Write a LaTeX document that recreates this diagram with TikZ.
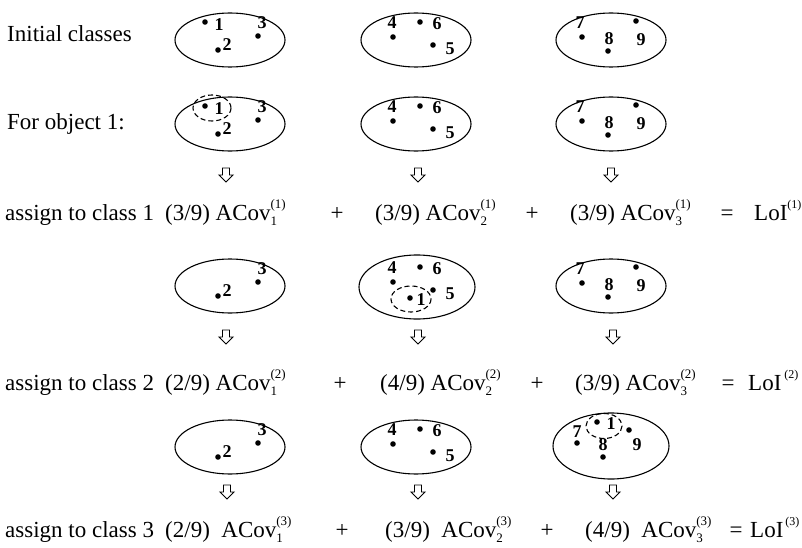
\documentclass[tikz,border=0pt]{standalone}
\usepackage{fontspec}
\setmainfont{Liberation Serif}
\newcommand\acv[2]{ACov\makebox[0pt][l]{\raisebox{-0.5ex}{\fontsize{13}{13}\selectfont #1}}\raisebox{1.05ex}{\fontsize{13}{13}\selectfont(#2)}}
\newcommand\lsup[1]{\raisebox{1.05ex}{\fontsize{12}{12}\selectfont(#1)}}
\begin{document}
\begin{tikzpicture}[x=1pt,y=-1pt,
  txt/.style={anchor=base west,inner sep=0pt,font=\fontsize{23}{23}\selectfont},
  op/.style={anchor=base,inner sep=0pt,font=\fontsize{23}{23}\selectfont},
  lab/.style={inner sep=0pt,font=\bfseries\fontsize{18}{18}\selectfont},
  cls/.style={line width=1.1pt},
  dsh/.style={line width=1.1pt,dash pattern=on 5pt off 3pt},
  harrowst/.style={line width=0.9pt,line join=miter},
  pics/cA/.style={code={
    \fill (-25,-18) circle (2.8);
    \node[lab] (a1) at (-11,-15) {1};
    \fill (28,-4) circle (2.8);
    \node[lab] (a3) at (32,-17) {3};
    \fill (-12,10) circle (2.8);
    \node[lab] (a2) at (-3,5) {2};
  }},
  pics/cB/.style={code={
    \fill (28,-4) circle (2.8);
    \node[lab] (b3) at (32,-17) {3};
    \fill (-12,10) circle (2.8);
    \node[lab] (b2) at (-3,5) {2};
  }},
  pics/cC/.style={code={
    \node[lab] (c4) at (-24,-17) {4};
    \fill (-23,-3) circle (2.8);
    \fill (4,-18) circle (2.8);
    \node[lab] (c6) at (21,-16) {6};
    \fill (17,5) circle (2.8);
    \node[lab] (c5) at (34,9) {5};
  }},
  pics/cD/.style={code={
    \node[lab] (d7) at (-31,-17) {7};
    \fill (-29,-3) circle (2.8);
    \fill (25,-19) circle (2.8);
    \node[lab] (d9) at (30,0) {9};
    \node[lab] (d8) at (-2,-1) {8};
    \fill (-3,11) circle (2.8);
  }},
  pics/darr/.style={code={
    \draw[harrowst] (-3.5,0) -- (3.5,0) -- (3.5,7) -- (7,7) -- (0,14) -- (-7,7) -- (-3.5,7) -- cycle;
  }}
]
\useasboundingbox (0,0) rectangle (802,548);

% row 1
\node[txt] (t0) at (7,42) {Initial classes};
\draw[cls] (230,40) ellipse [x radius=55, y radius=27];
\draw[cls] (416,40) ellipse [x radius=55, y radius=27];
\draw[cls] (611,40) ellipse [x radius=55, y radius=27];
\pic (r1a) at (230,40) {cA};
\pic (r1b) at (416,40) {cC};
\pic (r1c) at (611,40) {cD};

% row 2
\node[txt] (t1) at (7,130) {For object 1:};
\draw[cls] (230,124) ellipse [x radius=55, y radius=27];
\draw[cls] (416,124) ellipse [x radius=55, y radius=27];
\draw[cls] (611,124) ellipse [x radius=55, y radius=27];
\pic (r2a) at (230,124) {cA};
\pic (r2b) at (416,124) {cC};
\pic (r2c) at (611,124) {cD};
\draw[dsh] (212,108) ellipse [x radius=19, y radius=13];
\pic (ar1a) at (226,168) {darr};
\pic (ar1b) at (418,168) {darr};
\pic (ar1c) at (611,168) {darr};

% equation 1
\node[txt] (e1a) at (5,220) {assign to class 1};
\node[txt] (e1b) at (165,220) {(3/9) \acv{1}{1}};
\node[op]  (e1c) at (337,220) {+};
\node[txt] (e1d) at (375,220) {(3/9) \acv{2}{1}};
\node[op]  (e1e) at (532,220) {+};
\node[txt] (e1f) at (570,220) {(3/9) \acv{3}{1}};
\node[op]  (e1g) at (727,220) {=};
\node[txt] (e1h) at (754,220) {LoI\lsup{1}};

% row 3
\draw[cls] (230,286) ellipse [x radius=55, y radius=27];
\draw[cls] (417,287) ellipse [x radius=58, y radius=32];
\draw[cls] (611,286) ellipse [x radius=55, y radius=27];
\pic (r3a) at (230,286) {cB};
\pic (r3b) at (416,285) {cC};
\pic (r3c) at (611,286) {cD};
\fill (410,298) circle (2.8);
\node[lab] (r3one) at (421,300) {1};
\draw[dsh] (411,299) ellipse [x radius=20, y radius=13];
\pic (ar2a) at (226,330) {darr};
\pic (ar2b) at (418,330) {darr};
\pic (ar2c) at (613,330) {darr};

% equation 2
\node[txt] (e2a) at (5,390) {assign to class 2};
\node[txt] (e2b) at (165,390) {(2/9) \acv{1}{2}};
\node[op]  (e2c) at (340,390) {+};
\node[txt] (e2d) at (380,390) {(4/9) \acv{2}{2}};
\node[op]  (e2e) at (537,390) {+};
\node[txt] (e2f) at (575,390) {(3/9) \acv{3}{2}};
\node[op]  (e2g) at (728,390) {=};
\node[txt] (e2h) at (748,390) {LoI\hspace{3pt}\lsup{2}};

% row 4
\draw[cls] (230,447) ellipse [x radius=55, y radius=27];
\draw[cls] (416,447) ellipse [x radius=55, y radius=27];
\draw[cls] (611,446) ellipse [x radius=58, y radius=33];
\pic (r4a) at (230,447) {cB};
\pic (r4b) at (416,447) {cC};
\fill (597,422) circle (2.8);
\node[lab] (r4one) at (611,424) {1};
\draw[dsh] (604,426) ellipse [x radius=18, y radius=12.5];
\node[lab] (r4s) at (577,432) {7};
\fill (577,443) circle (2.8);
\node[lab] (r4e) at (603,445) {8};
\fill (603,457) circle (2.8);
\fill (629,430) circle (2.8);
\node[lab] (r4n) at (637,445) {9};
\pic (ar3a) at (227,485) {darr};
\pic (ar3b) at (418,485) {darr};
\pic (ar3c) at (613,485) {darr};

% equation 3
\node[txt] (e3a) at (5,537) {assign to class 3};
\node[txt] (e3b) at (165,537) {(2/9)\ \ \acv{1}{3}};
\node[op]  (e3c) at (342,537) {+};
\node[txt] (e3d) at (385,537) {(3/9)\ \ \acv{2}{3}};
\node[op]  (e3e) at (547,537) {+};
\node[txt] (e3f) at (585,537) {(4/9)\ \ \acv{3}{3}};
\node[op]  (e3g) at (736,537) {=};
\node[txt] (e3h) at (750,537) {LoI\hspace{2pt}\lsup{3}};
\end{tikzpicture}
\end{document}
